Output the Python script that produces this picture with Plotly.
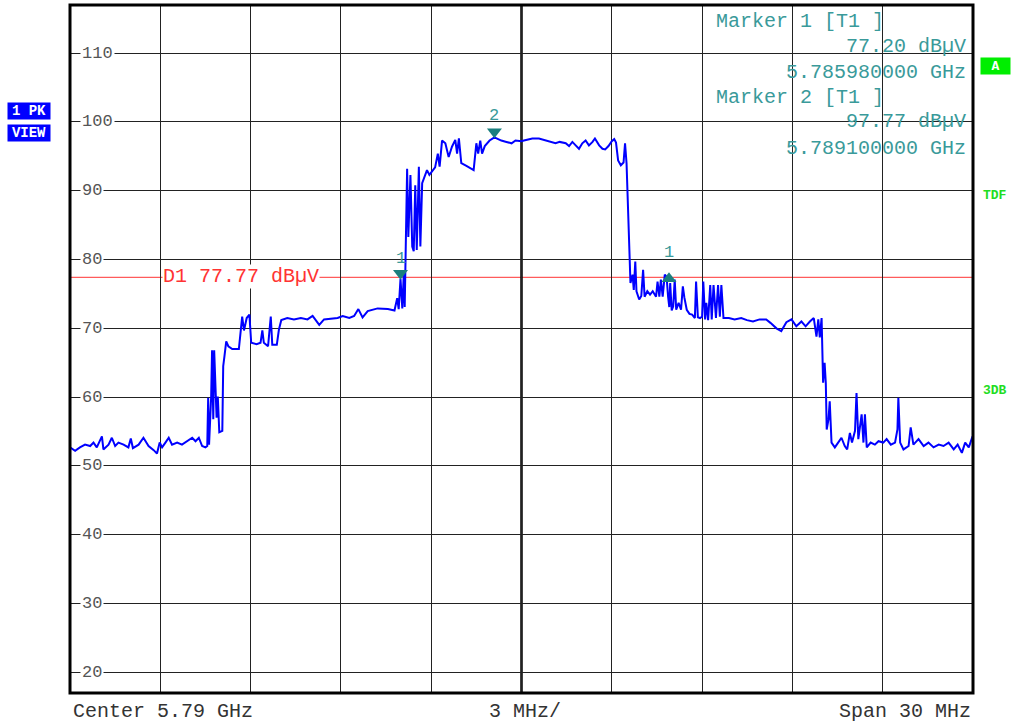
import plotly.graph_objects as go

# ---------------- data ----------------
# frequency offset from span start (MHz); start = 5.775 GHz, span 30 MHz
FREQ_MHZ = [
    0.00, 0.17, 0.33, 0.50, 0.67, 0.78, 0.89, 1.06, 1.11, 1.28, 1.39, 1.50, 1.61, 1.78, 1.94,
    2.02, 2.09, 2.28, 2.44, 2.61, 2.78, 2.89, 2.98, 3.06, 3.17, 3.28, 3.39, 3.56, 3.72, 3.89,
    4.06, 4.17, 4.28, 4.39, 4.50, 4.56,
    4.59, 4.62, 4.69, 4.72, 4.76, 4.79, 4.82, 4.87, 4.91, 4.96, 5.06, 5.09, 5.13, 5.19, 5.26,
    5.39, 5.61, 5.72, 5.78, 5.87, 5.96, 6.02, 6.20, 6.33, 6.39, 6.44, 6.58, 6.67, 6.72, 6.87,
    6.94, 7.02, 7.22, 7.44, 7.67, 7.89, 8.06, 8.28, 8.44, 8.67, 8.89, 9.06, 9.28, 9.44, 9.58,
    9.72, 9.89, 10.22, 10.56, 10.78, 10.87, 10.92, 10.98, 11.04, 11.09, 11.12, 11.16, 11.20,
    11.24, 11.31, 11.37, 11.42, 11.47, 11.52, 11.59, 11.64, 11.70, 11.78, 11.86, 11.94, 12.02,
    12.13, 12.22, 12.28, 12.36, 12.47, 12.58, 12.69, 12.80, 12.86, 12.92, 13.00, 13.17, 13.31,
    13.41, 13.50, 13.56, 13.63, 13.69, 13.78, 13.94, 14.10, 14.33, 14.50, 14.67, 14.80, 15.00,
    15.08, 15.36, 15.58, 15.74, 15.97, 16.13, 16.27, 16.47, 16.58, 16.69, 16.80, 16.91, 17.02,
    17.13, 17.24, 17.36, 17.44, 17.58, 17.69, 17.78, 17.89, 18.00, 18.08, 18.14, 18.21, 18.30,
    18.39, 18.44, 18.49, 18.53, 18.58, 18.62, 18.69, 18.73, 18.78, 18.82, 18.91, 18.98, 19.04,
    19.09, 19.18, 19.27, 19.36, 19.47, 19.52, 19.58, 19.63, 19.69, 19.76, 19.82, 19.87, 19.91,
    19.94, 19.99, 20.04, 20.09, 20.14, 20.22, 20.30, 20.36, 20.41, 20.49, 20.58, 20.67, 20.76,
    20.80, 20.86, 20.93, 21.00, 21.04, 21.10, 21.14, 21.20, 21.27, 21.32, 21.38, 21.46, 21.53,
    21.59, 21.64, 21.71, 21.89, 22.08, 22.30, 22.49, 22.69, 22.91, 23.13, 23.27, 23.47, 23.63,
    23.80, 23.97, 24.13, 24.30, 24.44, 24.58, 24.71, 24.80, 24.86, 24.91, 24.97, 25.02, 25.07,
    25.11, 25.14, 25.20, 25.24, 25.30, 25.41, 25.52, 25.63, 25.74, 25.82, 25.91, 25.98, 26.08,
    26.13, 26.19, 26.30, 26.36, 26.41, 26.47, 26.60, 26.74, 26.86, 27.02, 27.13, 27.27, 27.41,
    27.49, 27.52, 27.58, 27.69, 27.86, 27.93, 28.02, 28.19, 28.36, 28.52, 28.69, 28.86, 29.02,
    29.19, 29.36, 29.49, 29.63, 29.74, 29.86, 29.97, 30.00,
]
LEVEL_DBUV = [
    52.7, 52.2, 52.7, 53.1, 52.9, 53.4, 52.7, 54.3, 52.4, 53.1, 54.1, 52.9, 53.4, 53.1, 52.7,
    54.0, 52.6, 53.1, 54.1, 52.9, 52.3, 51.8, 53.4, 52.7, 53.4, 54.1, 53.1, 53.4, 53.1, 53.6,
    54.1, 53.6, 54.1, 52.9, 52.7, 52.9,
    59.9, 53.1, 60.1, 66.8, 56.8, 66.8, 61.6, 57.0, 60.1, 54.9, 55.1, 64.5, 65.9, 68.1, 67.4,
    67.0, 67.0, 71.7, 69.7, 71.5, 72.0, 67.9, 67.7, 67.9, 69.7, 67.9, 67.4, 71.7, 67.6, 67.6,
    69.8, 71.2, 71.5, 71.3, 71.5, 71.3, 71.8, 70.5, 71.3, 71.4, 71.5, 71.8, 71.5, 71.8, 72.8,
    71.6, 72.5, 72.9, 72.8, 72.6, 74.4, 72.8, 77.2, 72.9, 78.0, 73.1, 83.3, 93.2,
    83.3, 92.3, 81.9, 81.2, 90.8, 81.4, 93.5, 81.9, 91.1, 92.0, 93.0, 92.3, 92.8,
    93.4, 95.4, 93.5, 97.3, 96.9, 94.9, 96.4, 97.4, 95.4, 97.6, 94.0, 93.6, 93.2,
    93.0, 96.9, 95.4, 97.3, 95.4, 96.5, 97.3, 97.77, 97.3, 97.1, 96.9, 97.3, 97.2,
    97.3, 97.6, 97.6, 97.4, 97.1, 96.9, 97.1, 96.9, 96.5, 97.1, 96.6, 96.1, 96.9,
    97.3, 96.6, 97.1, 97.6, 96.6, 96.1, 96.0, 96.5, 97.2, 97.5, 97.0, 94.4, 93.7,
    94.1, 96.9, 94.0, 88.2, 82.4, 76.6, 77.8, 75.6, 79.7, 75.4, 74.2, 74.7, 78.5,
    74.6, 75.4, 74.9, 75.4, 74.6, 76.8, 74.6, 77.1, 74.6, 77.8, 77.5, 74.6, 73.1,
    76.6, 72.6, 73.2, 77.1, 72.7, 73.7, 72.7, 76.1, 74.5, 72.7, 72.1, 72.0, 71.5,
    76.8, 71.6, 71.5, 71.7, 76.8, 71.3, 73.7, 71.2, 76.3, 71.3, 76.3, 71.5, 76.3,
    71.7, 76.3, 71.5, 71.5, 71.3, 71.5, 71.2, 71.0, 71.3, 71.3, 70.8, 70.0, 69.6,
    70.9, 71.3, 70.3, 71.0, 70.3, 71.0, 71.5, 68.8, 71.3, 68.7, 71.5, 62.1, 65.0,
    62.0, 55.3, 56.8, 59.4, 53.4, 52.7, 53.4, 54.1, 52.9, 52.4, 54.8, 53.4, 55.1,
    60.6, 53.9, 57.5, 53.4, 57.5, 52.7, 53.4, 53.1, 53.6, 53.4, 53.9, 53.1, 53.4,
    55.3, 59.9, 53.4, 52.4, 52.9, 55.6, 53.1, 53.9, 52.9, 53.4, 52.7, 53.1, 52.9,
    53.4, 52.4, 53.1, 51.9, 53.4, 52.7, 54.1, 54.0,
]

Y_TICKS = [110, 100, 90, 80, 70, 60, 50, 40, 30, 20]
X_GRID_STEP_MHZ = 3
SPAN_MHZ = 30
Y_RANGE = [17, 117]

D1_LINE_DBUV = 77.42          # display line as drawn
D1_LABEL = "D1 77.77 dBµV"

MARKER_1 = (10.98, 77.20)      # 5.785980000 GHz
MARKER_2 = (14.10, 97.77)      # 5.789100000 GHz
MARKER_1B = (19.90, 77.20)

MARKER_TEXT = [
    ("Marker 1 [T1 ]", "left"),
    ("77.20 dBµV", "right"),
    ("5.785980000 GHz", "right"),
    ("Marker 2 [T1 ]", "left"),
    ("97.77 dBµV", "right"),
    ("5.789100000 GHz", "right"),
]
FOOTER = ["Center 5.79 GHz", "3 MHz/", "Span 30 MHz"]

# ---------------- style ----------------
W, H = 1016, 725
L, R, T, B = 70, 43, 5, 32
PW, PH = W - L - R, H - T - B
MONO = "Liberation Mono, Courier New, monospace"
TEAL = "#3a9a9a"
TRACE_BLUE = "#0000ff"
GREEN = "#22dd22"
PX_PER_DB = PH / (Y_RANGE[1] - Y_RANGE[0])
TRI_OFFSET_DB = 5.5 / PX_PER_DB


def px_x(px):
    return (px - L) / PW


def px_y(py):
    return 1 - (py - T) / PH


fig = go.Figure()

fig.add_trace(go.Scatter(
    x=FREQ_MHZ, y=LEVEL_DBUV, mode="lines",
    line=dict(color=TRACE_BLUE, width=2), hoverinfo="skip", showlegend=False,
))

# marker triangles
fig.add_trace(go.Scatter(
    x=[MARKER_1[0], MARKER_2[0]],
    y=[MARKER_1[1] + TRI_OFFSET_DB, MARKER_2[1] + TRI_OFFSET_DB],
    mode="markers",
    marker=dict(symbol="triangle-down", size=13, color="#1a7f7f", line=dict(width=0)),
    hoverinfo="skip", showlegend=False,
))
fig.add_trace(go.Scatter(
    x=[MARKER_1B[0]], y=[MARKER_1B[1]],
    mode="markers",
    marker=dict(symbol="triangle-up", size=13, color="#1a7f7f", line=dict(width=0)),
    hoverinfo="skip", showlegend=False,
))

shapes = []
# display line D1
shapes.append(dict(type="line", xref="paper", yref="y", x0=0, x1=1,
                   y0=D1_LINE_DBUV, y1=D1_LINE_DBUV,
                   line=dict(color="#ff3333", width=1), layer="below"))
# center line
shapes.append(dict(type="line", xref="x", yref="paper", x0=SPAN_MHZ / 2, x1=SPAN_MHZ / 2,
                   y0=0, y1=1, line=dict(color="black", width=2.5), layer="below"))
# frame
shapes.append(dict(type="rect", xref="paper", yref="paper", x0=0, x1=1, y0=0, y1=1,
                   line=dict(color="black", width=3)))

ann = []
# y labels
for v in Y_TICKS:
    ann.append(dict(x=px_x(80), xref="paper", y=v, yref="y", text=str(v),
                    showarrow=False, xanchor="left", yanchor="middle",
                    font=dict(family=MONO, size=17, color="#555555"),
                    bgcolor="white", borderpad=1))
# D1 label
ann.append(dict(x=px_x(162), xref="paper", y=D1_LINE_DBUV, yref="y", text=D1_LABEL,
                showarrow=False, xanchor="left", yanchor="middle", yshift=1,
                font=dict(family=MONO, size=20, color="#ff3333"),
                bgcolor="white", borderpad=0))
# marker numbers
for (mx, my), lab, ys in [(MARKER_1, "1", 20), (MARKER_2, "2", 22), (MARKER_1B, "1", 26)]:
    ann.append(dict(x=mx, y=my, xref="x", yref="y", text=lab, showarrow=False,
                    yshift=ys, font=dict(family=MONO, size=17, color=TEAL)))
# marker info block
ys_px = [21, 46, 72, 97, 122, 148]
for (txt, side), ypx in zip(MARKER_TEXT, ys_px):
    ann.append(dict(x=px_x(714) if side == "left" else px_x(968), xref="paper",
                    y=px_y(ypx), yref="paper", text=txt, showarrow=False,
                    xanchor=side, yanchor="middle",
                    font=dict(family=MONO, size=20, color=TEAL)))
# footer
fy = px_y(711)
ann.append(dict(x=px_x(71), xref="paper", y=fy, yref="paper", text=FOOTER[0],
                showarrow=False, xanchor="left", yanchor="middle",
                font=dict(family=MONO, size=20, color="#333333")))
ann.append(dict(x=px_x(525), xref="paper", y=fy, yref="paper", text=FOOTER[1],
                showarrow=False, xanchor="center", yanchor="middle",
                font=dict(family=MONO, size=20, color="#333333")))
ann.append(dict(x=px_x(973), xref="paper", y=fy, yref="paper", text=FOOTER[2],
                showarrow=False, xanchor="right", yanchor="middle",
                font=dict(family=MONO, size=20, color="#333333")))
# left blue boxes
for txt, ypx in [("1 PK", 110.5), ("VIEW", 132.5)]:
    ann.append(dict(x=px_x(29), xref="paper", y=px_y(ypx), yref="paper",
                    text="<b>" + txt + "</b>", showarrow=False, width=42, height=16,
                    xanchor="center", yanchor="middle", bgcolor="#0000ff", borderpad=0,
                    font=dict(family=MONO, size=14, color="white")))
# right green items
ann.append(dict(x=px_x(995.5), xref="paper", y=px_y(66), yref="paper",
                text="<b>A</b>", showarrow=False, width=29, height=16,
                xanchor="center", yanchor="middle", bgcolor="#00ee00", borderpad=0,
                font=dict(family=MONO, size=13, color="white")))
for txt, ypx in [("TDF", 196), ("3DB", 390)]:
    ann.append(dict(x=px_x(995), xref="paper", y=px_y(ypx), yref="paper",
                    text="<b>" + txt + "</b>", showarrow=False,
                    xanchor="center", yanchor="middle",
                    font=dict(family=MONO, size=13, color=GREEN)))

fig.update_layout(
    width=W, height=H,
    margin=dict(l=L, r=R, t=T, b=B, pad=0),
    paper_bgcolor="white", plot_bgcolor="white",
    shapes=shapes, annotations=ann, showlegend=False,
    xaxis=dict(range=[0, SPAN_MHZ], dtick=X_GRID_STEP_MHZ, tick0=0,
               showgrid=True, gridcolor="#222222", gridwidth=1,
               showticklabels=False, ticks="", zeroline=False, showline=False,
               fixedrange=True),
    yaxis=dict(range=Y_RANGE, tickvals=Y_TICKS, showgrid=True,
               gridcolor="#222222", gridwidth=1,
               showticklabels=False, ticks="", zeroline=False, showline=False,
               fixedrange=True),
)

fig.write_html(
    "out.html",
    config={"displayModeBar": False},
    post_script="document.body.style.margin='0';document.body.style.overflow='hidden';",
)
